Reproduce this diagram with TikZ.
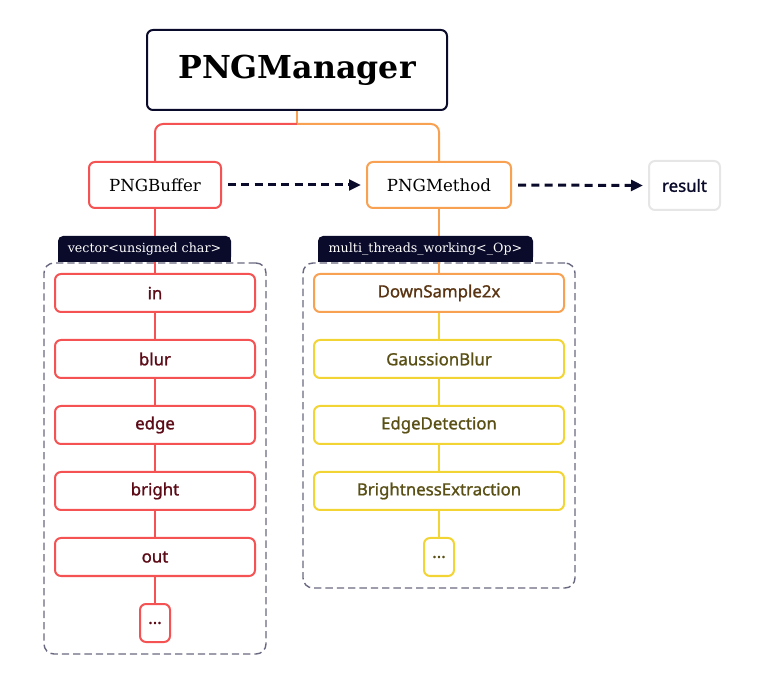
\documentclass[tikz,border=0pt]{standalone}
\usepackage{fontspec}
\setmainfont{DejaVu Serif}
\setsansfont{Noto Sans}[FakeBold=1.2]
\newfontfamily\itemfont{Noto Sans}[FakeBold=1.2]
\usetikzlibrary{arrows.meta,positioning}

\definecolor{navy}{HTML}{0A0A2A}
\definecolor{bufred}{HTML}{F55353}
\definecolor{methorange}{HTML}{F9A152}
\definecolor{opyellow}{HTML}{F3D435}
\definecolor{boxgray}{HTML}{E6E6E6}
\definecolor{framegray}{HTML}{686880}
\definecolor{redtext}{HTML}{5C0A16}
\definecolor{browntext}{HTML}{5A3412}
\definecolor{olivetext}{HTML}{5A5016}

\def\px{0.75pt}

\begin{document}
\begin{tikzpicture}[x=0.75pt,y=-0.75pt,
  box/.style={draw, rounded corners=6*\px, line width=2*\px, fill=white, inner sep=0pt},
  item/.style={box, minimum height=38*\px, font=\itemfont\fontsize{12.6}{14}\selectfont},
  buf item/.style={item, draw=bufred, text=redtext, minimum width=200*\px},
  op item/.style={item, draw=opyellow, text=olivetext, minimum width=250*\px},
  tab/.style={fill=navy, text=white, rounded corners=5*\px, inner sep=0pt, minimum height=26*\px, font=\fontsize{9.5}{11}\selectfont},
  frame/.style={draw=framegray, dash pattern=on 5.5pt off 3pt, line width=1.4*\px, rounded corners=10*\px},
  flow/.style={draw=navy, line width=3*\px, dash pattern=on 6pt off 4pt, -{Triangle[length=9pt,width=8pt]}, shorten <=6*\px, shorten >=5*\px}]

  \useasboundingbox (0,0) rectangle (764,680);

  % Top level
  \node[box, draw=navy, minimum width=300*\px, minimum height=80*\px, font=\bfseries\fontsize{23.7}{28}\selectfont] (mgr) at (297,70) {PNGManager};
  \node[box, draw=bufred, minimum width=132*\px, minimum height=46*\px, font=\fontsize{12.5}{15}\selectfont] (buf) at (155,185) {PNGBuffer};
  \node[box, draw=methorange, minimum width=144*\px, minimum height=46*\px, font=\fontsize{12.5}{15}\selectfont] (meth) at (439,185) {PNGMethod};
  \node[box, draw=boxgray, minimum width=71*\px, minimum height=49*\px, text=navy, font=\itemfont\fontsize{12.6}{14}\selectfont] (res) at (684.5,185.5) {result};

  % Tree lines
  \coordinate (split) at (297,124);
  \draw[methorange, line width=2*\px] (mgr.south) -- (split);
  \draw[bufred, line width=2*\px, rounded corners=8*\px] (split) -| (buf.north);
  \draw[methorange, line width=2*\px, rounded corners=8*\px] (split) -| (meth.north);

  % Flows
  \draw[flow] (buf.east) -- (meth.west);
  \draw[flow] (meth.east) -- (res.west);

  % Containers
  \node[frame, minimum width=222*\px, minimum height=391*\px] (bufframe) at (155,458.5) {};
  \node[frame, minimum width=272*\px, minimum height=325*\px] (opframe) at (439,425.5) {};

  % Buffer column
  \foreach \name [count=\i from 0] in {in,blur,edge,bright,out}
    \node[buf item] (b\i) at (155,{293+66*\i}) {\name};
  \node[buf item, minimum width=30*\px] (b5) at (155,623) {...};
  \draw[bufred, line width=2*\px] (buf.south) -- (b0.north);
  \foreach \i [count=\j from 1] in {0,...,4}
    \draw[bufred, line width=2*\px] (b\i.south) -- (b\j.north);

  % Method column
  \node[op item, draw=methorange, text=browntext] (m0) at (439,293) {DownSample2x};
  \foreach \name [count=\i from 1] in {GaussionBlur,EdgeDetection,BrightnessExtraction}
    \node[op item] (m\i) at (439,{293+66*\i}) {\name};
  \node[op item, minimum width=30*\px] (m4) at (439,557) {...};
  \draw[methorange, line width=2*\px] (meth.south) -- (m0.north);
  \foreach \i [count=\j from 1] in {0,...,3}
    \draw[opyellow, line width=2*\px] (m\i.south) -- (m\j.north);

  % Type tabs (square bottom corners under the rounded node)
  \fill[navy] (58,249) rectangle (231,262);
  \node[tab, minimum width=173*\px] (buftab) at (144.5,249) {vector<unsigned char>};
  \fill[navy] (318,249) rectangle (533,262);
  \node[tab, minimum width=215*\px] (optab) at (425.5,249) {multi\_threads\_working<\_Op>};
\end{tikzpicture}
\end{document}
